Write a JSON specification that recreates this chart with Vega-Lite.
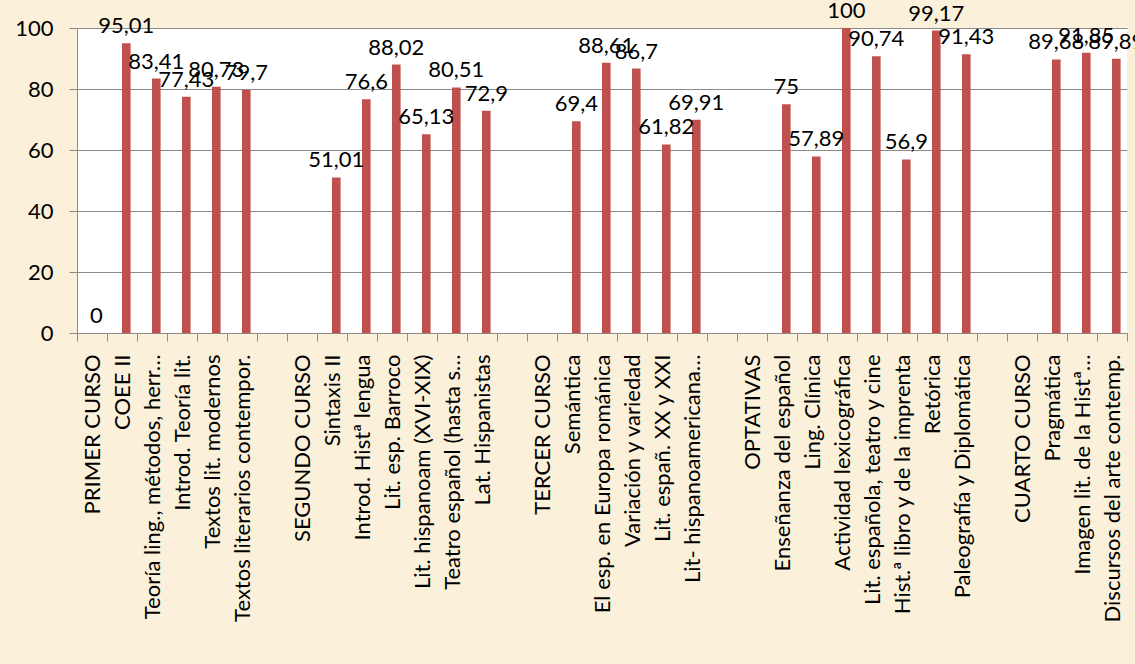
{
  "$schema": "https://vega.github.io/schema/vega-lite/v6.json",
  "autosize": "none",
  "width": 1050,
  "height": 305,
  "padding": {"left": 77, "top": 28, "right": 8, "bottom": 331},
  "background": "#FBF0DA",
  "config": {
    "locale": {"number": {"decimal": ",", "thousands": ".", "grouping": [3], "currency": ["", " €"]}},
    "view": {"fill": "white", "stroke": null},
    "font": "Lato",
    "axis": {"labelFont": "Lato", "labelFontSize": 22, "labelColor": "#000000", "domainColor": "#8A8A8A", "tickColor": "#8A8A8A", "gridColor": "#8A8A8A", "tickSize": 8, "title": null}
  },
  "data": {
    "values": [
      {"asignatura": "PRIMER CURSO", "valor": 0},
      {"asignatura": "COEE II", "valor": 95.01},
      {"asignatura": "Teoría ling., métodos, herr…", "valor": 83.41},
      {"asignatura": "Introd. Teoría lit.", "valor": 77.43},
      {"asignatura": "Textos lit. modernos", "valor": 80.73},
      {"asignatura": "Textos literarios contempor.", "valor": 79.7},
      {"asignatura": " ", "valor": null},
      {"asignatura": "SEGUNDO CURSO", "valor": null},
      {"asignatura": "Sintaxis II", "valor": 51.01},
      {"asignatura": "Introd. Histª lengua", "valor": 76.6},
      {"asignatura": "Lit. esp. Barroco", "valor": 88.02},
      {"asignatura": "Lit. hispanoam (XVI-XIX)", "valor": 65.13},
      {"asignatura": "Teatro español (hasta s…", "valor": 80.51},
      {"asignatura": "Lat. Hispanistas", "valor": 72.9},
      {"asignatura": "  ", "valor": null},
      {"asignatura": "TERCER CURSO", "valor": null},
      {"asignatura": "Semántica", "valor": 69.4},
      {"asignatura": "El esp. en Europa románica", "valor": 88.61},
      {"asignatura": "Variación y variedad", "valor": 86.7},
      {"asignatura": "Lit. españ. XX y XXI", "valor": 61.82},
      {"asignatura": "Lit- hispanoamericana…", "valor": 69.91},
      {"asignatura": "   ", "valor": null},
      {"asignatura": "OPTATIVAS", "valor": null},
      {"asignatura": "Enseñanza del español", "valor": 75},
      {"asignatura": "Ling. Clínica", "valor": 57.89},
      {"asignatura": "Actividad lexicográfica", "valor": 100},
      {"asignatura": "Lit. española, teatro y cine", "valor": 90.74},
      {"asignatura": "Hist.ª libro y de la imprenta", "valor": 56.9},
      {"asignatura": "Retórica", "valor": 99.17},
      {"asignatura": "Paleografía y Diplomática", "valor": 91.43},
      {"asignatura": "    ", "valor": null},
      {"asignatura": "CUARTO CURSO", "valor": null},
      {"asignatura": "Pragmática", "valor": 89.68},
      {"asignatura": "Imagen lit. de la Histª…", "valor": 91.85},
      {"asignatura": "Discursos del arte contemp.", "valor": 89.89}
    ]
  },
  "encoding": {
    "x": {
      "field": "asignatura", "type": "nominal", "sort": null,
      "scale": {
        "paddingInner": 0, "paddingOuter": 0,
        "domain": ["PRIMER CURSO", "COEE II", "Teoría ling., métodos, herr…", "Introd. Teoría lit.", "Textos lit. modernos", "Textos literarios contempor.", " ", "SEGUNDO CURSO", "Sintaxis II", "Introd. Histª lengua", "Lit. esp. Barroco", "Lit. hispanoam (XVI-XIX)", "Teatro español (hasta s…", "Lat. Hispanistas", "  ", "TERCER CURSO", "Semántica", "El esp. en Europa románica", "Variación y variedad", "Lit. españ. XX y XXI", "Lit- hispanoamericana…", "   ", "OPTATIVAS", "Enseñanza del español", "Ling. Clínica", "Actividad lexicográfica", "Lit. española, teatro y cine", "Hist.ª libro y de la imprenta", "Retórica", "Paleografía y Diplomática", "    ", "CUARTO CURSO", "Pragmática", "Imagen lit. de la Histª…", "Discursos del arte contemp."]
      },
      "axis": {"labelAngle": -90, "labelAlign": "right", "labelBaseline": "middle", "labelPadding": 13, "tickBand": "extent", "labelLimit": 0}
    },
    "y": {
      "field": "valor", "type": "quantitative",
      "scale": {"domain": [0, 100], "nice": false},
      "axis": {"values": [0, 20, 40, 60, 80, 100], "labelPadding": 16, "grid": true, "gridWidth": 1.2}
    }
  },
  "layer": [
    {
      "mark": {"type": "bar", "color": "#C0504D", "width": 8.6, "xOffset": 4.3}
    },
    {
      "mark": {"type": "text", "font": "Lato", "fontSize": 22, "color": "#000000", "baseline": "alphabetic", "dy": -10, "xOffset": 4.3},
      "encoding": {
        "text": {"field": "valor", "type": "quantitative", "format": "~f"}
      }
    }
  ]
}
